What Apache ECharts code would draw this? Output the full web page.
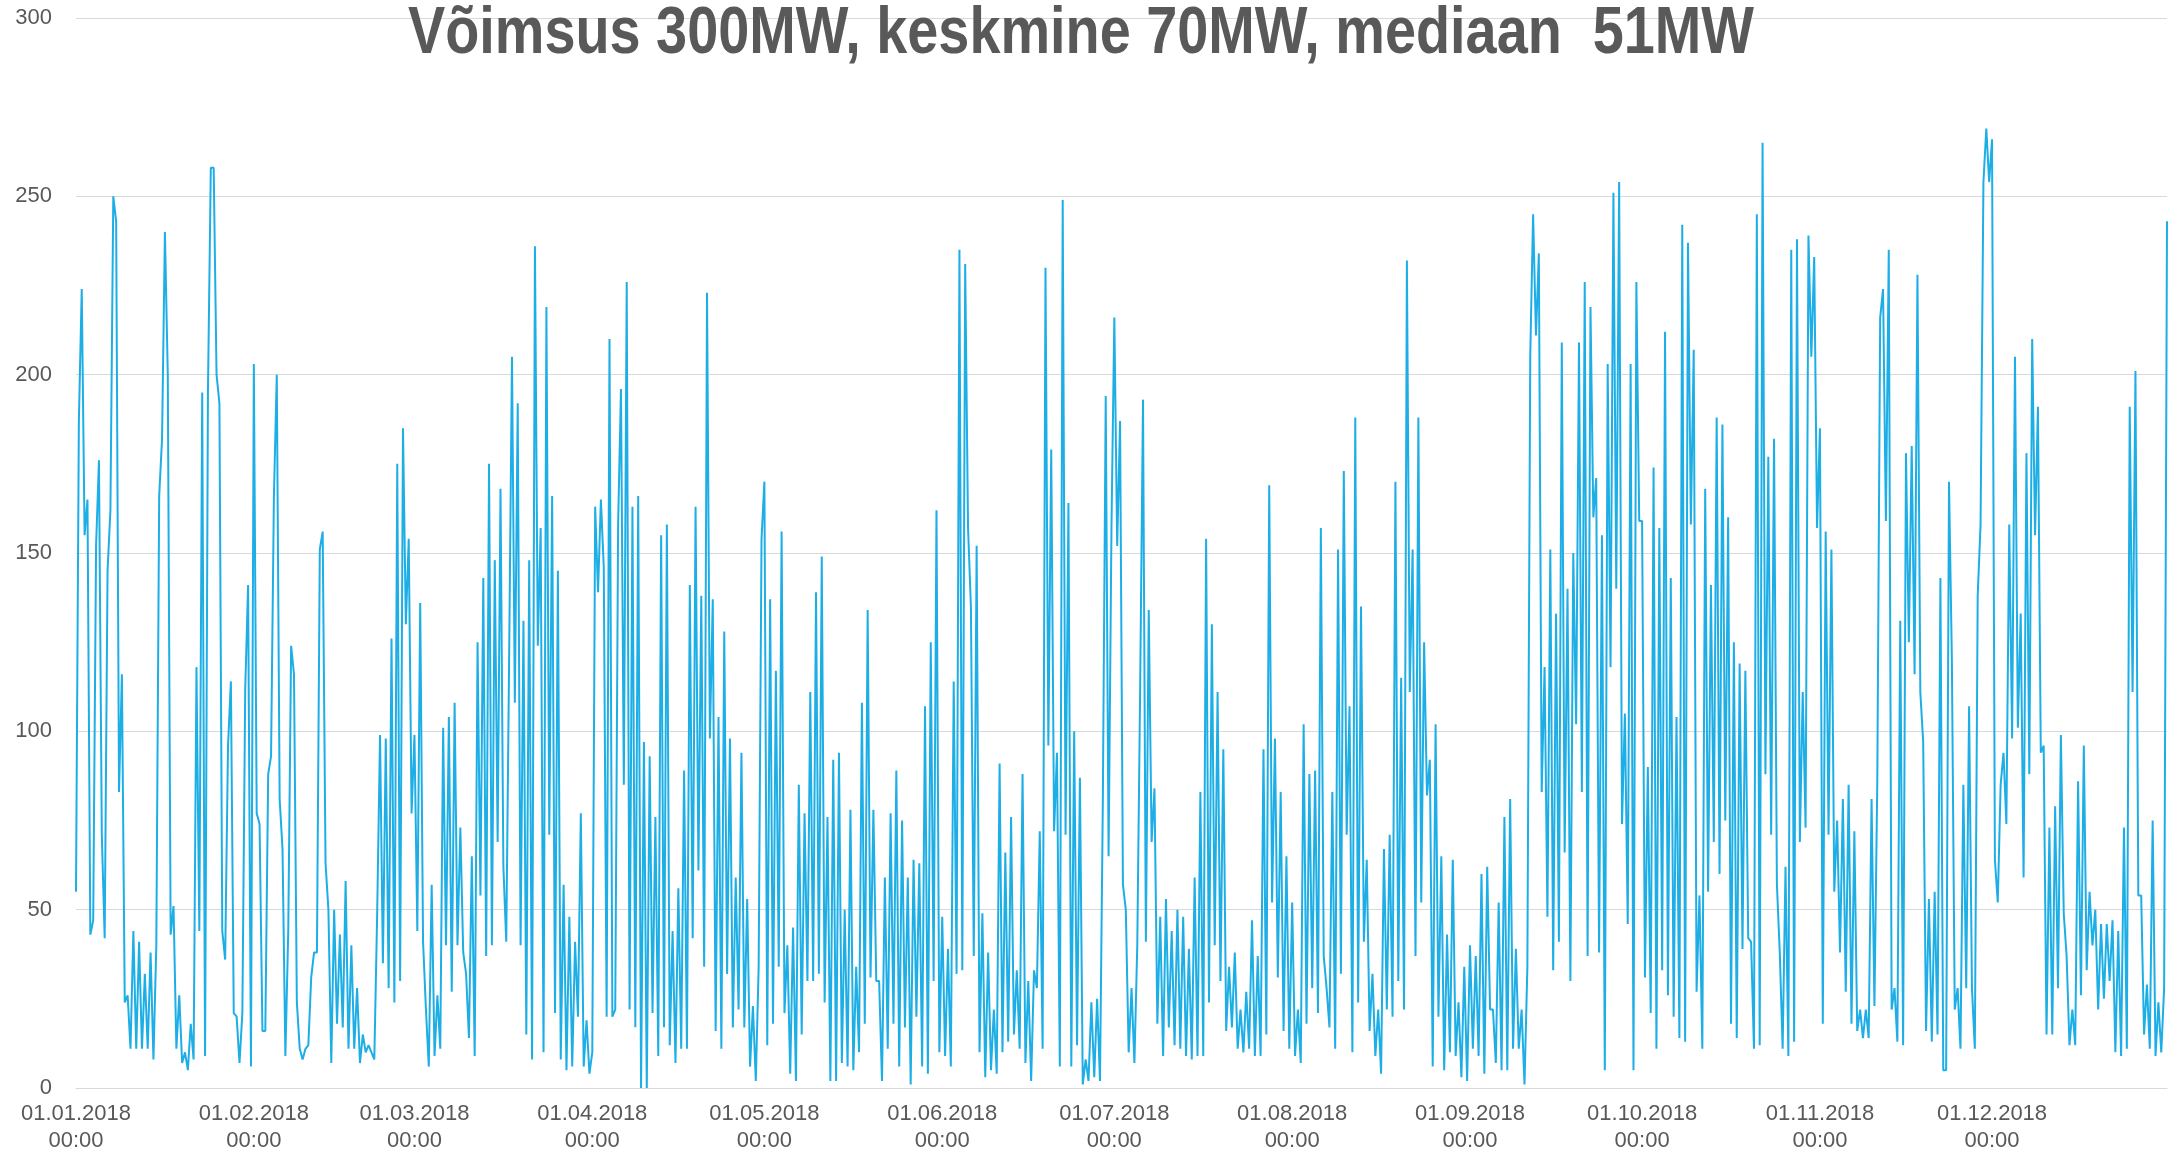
<!DOCTYPE html>
<html>
<head>
<meta charset="utf-8">
<script src="https://cdn.jsdelivr.net/npm/echarts@6.0.0/dist/echarts.min.js"></script>
<style>
  html, body { margin: 0; padding: 0; background: #fff; }
  #chart { width: 2169px; height: 1154px; }
</style>
</head>
<body>
<div id="chart"></div>
<script>
// tootmine MW, kaks lugemit päevas (00:00 ja 12:00), loetud pildilt
var titleText = 'Võimsus 300MW, keskmine 70MW, mediaan  51MW';
var year = 2018;
var yMin = 0, yMax = 300, yStep = 50;

var jan = [55,187, 224,155, 165,43, 47,152, 176,71, 42,145, 162,250, 243,83, 116,24, 26,11,
  44,11, 41,11, 32,11, 38,8, 40,166, 182,240, 200,43, 51,11, 26,7, 10,5,
  18,8, 118,44, 195,9, 195,258, 258,200, 192,44, 36,96, 114,21, 20,7, 21,112, 141,6];
var feb = [203,77, 74,16, 16,88, 93,166, 200,81, 67,9, 44,124, 116,24, 11,8, 11,12,
  31,38, 38,151, 156,63, 50,7, 50,18, 43,17, 58,11, 40,11, 28,7, 15,10,
  12,10, 8,49, 99,35, 98,28, 126,24, 175,30, 185,130, 154,77];
var mar = [99,44, 136,41, 22,6, 57,9, 26,11, 101,40, 104,27, 108,40, 73,38, 32,14,
  65,9, 125,54, 143,37, 175,40, 148,69, 168,62, 41,120, 205,108, 192,40, 131,15,
  148,8, 236,124, 157,10, 219,71, 166,21, 145,8, 57,5, 48,6, 41,20, 77,6, 19,4];
var apr = [10,163, 139,165, 146,20, 210,20, 22,158, 196,85, 226,22, 163,17, 166,0, 97,0,
  93,21, 76,9, 155,17, 158,12, 44,7, 56,11, 89,11, 141,42, 163,61, 138,34,
  223,98, 137,16, 104,11, 128,32, 98,17, 59,22, 94,17, 53,6, 23,2, 34,154];
var may = [170,12, 137,18, 117,34, 156,21, 40,4, 45,2, 85,15, 77,30, 111,30, 139,32,
  149,24, 76,2, 92,2, 94,7, 50,6, 78,5, 34,10, 108,18, 134,31, 78,30,
  30,2, 59,11, 77,18, 89,6, 75,17, 59,1, 64,20, 63,6, 107,4, 125,30, 162,10];
var jun = [48,9, 39,6, 114,32, 235,33, 231,157, 135,37, 152,10, 49,3, 38,5, 22,4,
  91,10, 66,13, 76,15, 33,11, 88,7, 30,2, 33,28, 72,11, 230,96, 179,72,
  94,6, 249,71, 164,6, 100,12, 87,1, 8,2, 24,3, 25,2, 81,194, 65,157];
var jul = [216,152, 187,57, 50,10, 28,7, 40,112, 193,41, 134,69, 84,18, 48,9, 53,17,
  44,12, 50,11, 48,9, 39,8, 59,9, 83,9, 154,24, 130,40, 111,30, 95,16,
  34,17, 38,11, 22,10, 27,11, 47,9, 37,9, 95,15, 169,52, 98,31, 83,16, 65,11];
var aug = [52,9, 22,7, 102,18, 88,28, 89,21, 157,37, 28,17, 83,11, 151,32, 173,71,
  107,10, 188,24, 135,41, 64,16, 32,9, 22,4, 67,22, 71,20, 170,30, 115,22,
  232,111, 151,37, 188,52, 125,82, 92,6, 102,20, 65,5, 43,10, 64,9, 24,3, 34,2];
var sep = [40,11, 37,9, 60,4, 62,22, 22,7, 52,5, 76,5, 81,11, 39,11, 22,1,
  34,205, 245,211, 234,83, 118,48, 151,33, 133,41, 209,66, 140,30, 150,102, 209,83,
  226,37, 219,160, 171,38, 155,5, 203,118, 251,140, 254,74, 105,46, 203,5, 226,159];
var oct = [159,31, 90,21, 174,11, 157,33, 212,26, 143,20, 104,14, 242,13, 237,158, 207,27,
  54,11, 168,55, 141,69, 188,60, 186,75, 160,18, 125,14, 119,39, 117,42, 41,11,
  245,12, 265,88, 177,71, 182,57, 38,11, 62,9, 235,13, 238,69, 111,73, 239,205, 233,157];
var nov = [185,18, 156,71, 151,55, 75,38, 81,27, 85,18, 72,16, 22,14, 22,14, 81,23,
  86,216, 224,159, 235,22, 28,13, 131,12, 178,125, 180,116, 228,111, 97,16, 53,13,
  55,15, 143,5, 5,170, 120,22, 28,11, 85,28, 107,28, 11,138, 158,254, 269,254];
var dec = [266,64, 52,85, 94,74, 158,98, 205,101, 133,59, 178,88, 210,155, 191,94, 96,15,
  73,15, 79,28, 99,49, 37,12, 22,12, 86,26, 96,33, 55,40, 50,22, 46,25,
  46,30, 47,10, 44,9, 73,11, 191,111, 201,54, 54,15, 29,11, 75,9, 24,10, 28,243];

var months = [jan, feb, mar, apr, may, jun, jul, aug, sep, oct, nov, dec];

function pad(n) { return (n < 10 ? '0' : '') + n; }

var categories = [];
var values = [];
months.forEach(function (arr, m) {
    for (var i = 0; i < arr.length; i++) {
        var day = Math.floor(i / 2) + 1;
        var hour = (i % 2) * 12;
        categories.push(pad(day) + '.' + pad(m + 1) + '.' + year + '\n' + pad(hour) + ':00');
        values.push(arr[i]);
    }
});

// pealkiri on Excelis kokku surutud, teeme sama scaleX-iga
var titleFont = 'bold 66px "Liberation Sans", Arial, sans-serif';
var ctx = document.createElement('canvas').getContext('2d');
ctx.font = titleFont;
var titleScale = 1346 / ctx.measureText(titleText).width;

var chart = echarts.init(document.getElementById('chart'), null, { renderer: 'canvas' });
chart.setOption({
    animation: false,
    backgroundColor: '#ffffff',
    graphic: [{
        type: 'text',
        x: 1081,
        y: 2,
        scaleX: titleScale,
        z: 10,
        style: {
            text: titleText,
            font: titleFont,
            fill: '#595959',
            textAlign: 'center',
            textVerticalAlign: 'top'
        }
    }],
    grid: { left: 76, right: 2, top: 18, bottom: 64 },
    xAxis: {
        type: 'category',
        data: categories,
        boundaryGap: false,
        axisLine: { lineStyle: { color: '#d9d9d9', width: 1 } },
        axisTick: { show: false },
        axisLabel: {
            interval: function (idx, val) { return val.indexOf('01.') === 0 && val.indexOf('00:00') > 0; },
            color: '#595959',
            fontFamily: '"Liberation Sans", Arial, sans-serif',
            fontSize: 22,
            lineHeight: 27,
            margin: 12,
            hideOverlap: false
        },
        splitLine: { show: false }
    },
    yAxis: {
        type: 'value',
        min: yMin,
        max: yMax,
        interval: yStep,
        axisLine: { show: false },
        axisTick: { show: false },
        axisLabel: {
            color: '#595959',
            fontFamily: '"Liberation Sans", Arial, sans-serif',
            fontSize: 22,
            margin: 24
        },
        splitLine: { lineStyle: { color: '#d9d9d9', width: 1 } }
    },
    series: [{
        type: 'line',
        data: values,
        showSymbol: false,
        symbol: 'none',
        lineStyle: { color: '#1eaee6', width: 2 },
        z: 1
    }]
});
</script>
</body>
</html>
